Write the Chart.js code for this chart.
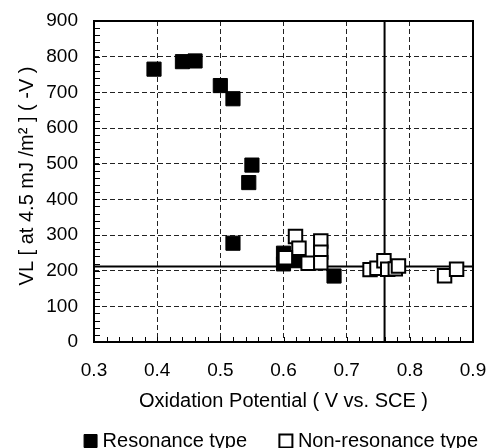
<!DOCTYPE html>
<html>
<head>
<meta charset="utf-8">
<script src="https://cdn.jsdelivr.net/npm/chart.js@4"></script>
<style>
  html, body { margin: 0; padding: 0; background: #fff; }
</style>
</head>
<body>
<canvas id="chart" width="487" height="448"></canvas>
<script>
// values
const resonanceX = [0.395, 0.440, 0.460, 0.500, 0.520, 0.550, 0.545, 0.520, 0.600, 0.600, 0.623, 0.680];
const resonanceY = [765, 786, 788, 719, 682, 496, 447, 277, 249, 219, 228, 185];

const nonResonanceX = [0.619, 0.6245, 0.603, 0.639, 0.659, 0.659, 0.659, 0.737, 0.748, 0.759, 0.765, 0.777, 0.782, 0.855, 0.874];
const nonResonanceY = [296, 263, 236, 221, 283, 252, 222, 203, 207, 228, 204, 205, 213, 186, 204];

const xTicks = [0.3, 0.4, 0.5, 0.6, 0.7, 0.8, 0.9];
const yTicks = [0, 100, 200, 300, 400, 500, 600, 700, 800, 900];
const xMinorStep = 0.02;
const yMinorStep = 20;

const refX = 0.76;  // vertical reference line
const refY = 212;   // horizontal reference line

const seriesNames = ["Resonance type", "Non-resonance type"];
const xTitle = "Oxidation Potential ( V vs. SCE )";
const yTitle = "\u00a0\u00a0VL [ at 4.5 mJ /m\u00b2 ] ( -V )";

const FONT = "'Liberation Sans', Arial, sans-serif";

function toPoints(xs, ys) {
  return xs.map((x, i) => ({ x: x, y: ys[i] }));
}

const xMin = xTicks[0], xMax = xTicks[xTicks.length - 1];
const yMin = yTicks[0], yMax = yTicks[yTicks.length - 1];

// frame round the plot and the small inward ticks
const frameAndTicks = {
  id: "frameAndTicks",
  afterDraw(chart) {
    const { ctx, chartArea: a, scales } = chart;
    ctx.save();
    ctx.strokeStyle = "#000";
    ctx.lineWidth = 1;
    ctx.beginPath();
    const nx = Math.round((xMax - xMin) / xMinorStep);
    for (let i = 0; i <= nx; i++) {
      const px = Math.round(scales.x.getPixelForValue(xMin + i * xMinorStep)) + 0.5;
      ctx.moveTo(px, a.bottom);
      ctx.lineTo(px, a.bottom - 5);
    }
    const ny = Math.round((yMax - yMin) / yMinorStep);
    for (let i = 0; i <= ny; i++) {
      const py = Math.round(scales.y.getPixelForValue(yMin + i * yMinorStep)) + 0.5;
      ctx.moveTo(a.left, py);
      ctx.lineTo(a.left + 6, py);
    }
    ctx.stroke();
    ctx.lineWidth = 2;
    ctx.strokeRect(a.left, a.top, a.width, a.height);
    ctx.restore();
  },
};

const ctx = document.getElementById("chart").getContext("2d");
new Chart(ctx, {
  type: "scatter",
  data: {
    datasets: [
      {
        label: seriesNames[1],
        data: toPoints(nonResonanceX, nonResonanceY),
        pointStyle: "rect",
        pointRadius: 9.5,
        backgroundColor: "#fff",
        borderColor: "#000",
        borderWidth: 2,
      },
      {
        label: seriesNames[0],
        data: toPoints(resonanceX, resonanceY),
        pointStyle: "rect",
        pointRadius: 10,
        backgroundColor: "#000",
        borderColor: "#000",
        borderWidth: 1,
      },
      {
        type: "line",
        label: "refY",
        data: [{ x: xMin, y: refY }, { x: xMax, y: refY }],
        borderColor: "#000",
        borderWidth: 2,
        pointRadius: 0,
        fill: false,
      },
      {
        type: "line",
        label: "refX",
        data: [{ x: refX, y: yMin }, { x: refX, y: yMax }],
        borderColor: "#000",
        borderWidth: 2,
        pointRadius: 0,
        fill: false,
      },
    ],
  },
  options: {
    responsive: false,
    animation: false,
    layout: { padding: { top: 21, right: 0, bottom: -13, left: 0 } },
    scales: {
      x: {
        type: "linear",
        min: xMin,
        max: xMax,
        ticks: {
          stepSize: 0.1,
          padding: 17,
          color: "#000",
          font: { family: FONT, size: 19 },
          callback: (v) => v.toFixed(1),
        },
        grid: { color: "#222", lineWidth: 1, drawTicks: false },
        border: { display: false, dash: [5, 3] },
        title: {
          display: true,
          text: xTitle,
          color: "#000",
          font: { family: FONT, size: 20 },
          padding: { top: 9, bottom: 9 },
        },
        afterFit: (scale) => {
          scale.height = 80;
          scale.paddingLeft = 0;
          scale.paddingRight = 14;
        },
      },
      y: {
        type: "linear",
        min: yMin,
        max: yMax,
        ticks: {
          stepSize: 100,
          padding: 16,
          color: "#000",
          font: { family: FONT, size: 19 },
        },
        grid: { color: "#222", lineWidth: 1, drawTicks: false },
        border: { display: false, dash: [5, 3] },
        title: {
          display: true,
          text: yTitle,
          color: "#000",
          font: { family: FONT, size: 20 },
          padding: { top: 15, bottom: 0 },
        },
        afterFit: (scale) => {
          scale.width = 94;
          scale.paddingTop = 0;
          scale.paddingBottom = 0;
        },
      },
    },
    plugins: {
      tooltip: { enabled: false },
      legend: {
        position: "bottom",
        align: "end",
        labels: {
          usePointStyle: true,
          boxWidth: 4,
          boxHeight: 13,
          padding: 9,
          color: "#000",
          font: { family: FONT, size: 20 },
          filter: (item) => item.datasetIndex < 2,
          sort: (a, b) => b.datasetIndex - a.datasetIndex,
          generateLabels: (chart) => {
            const items = Chart.defaults.plugins.legend.labels.generateLabels(chart);
            items.forEach((item) => {
              if (item.datasetIndex === 1) item.text = item.text + "\u00a0".repeat(5);
            });
            return items;
          },
        },
      },
    },
  },
  plugins: [frameAndTicks],
});
</script>
</body>
</html>
